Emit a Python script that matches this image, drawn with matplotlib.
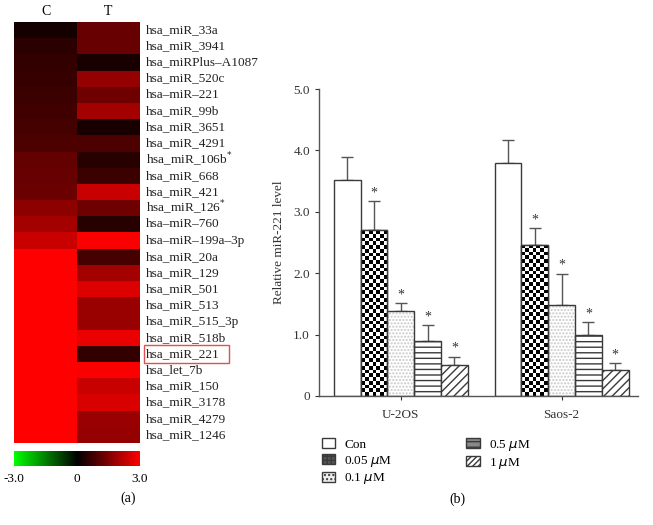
import numpy as np
import matplotlib.pyplot as plt
from matplotlib.colors import LinearSegmentedColormap
from matplotlib.patches import Patch, Rectangle

plt.rcParams['font.family'] = ['Liberation Serif', 'DejaVu Serif']

# heatmap data (log ratio, -3..3)
mirnas = ["hsa_miR_33a", "hsa_miR_3941", "hsa_miRPlus\u2013A1087", "hsa_miR_520c",
          "hsa\u2013miR\u2013221", "hsa_miR_99b", "hsa_miR_3651", "hsa_miR_4291",
          "hsa_miR_106b$^{*}$", "hsa_miR_668", "hsa_miR_421", "hsa_miR_126$^{*}$",
          "hsa\u2013miR\u2013760", "hsa\u2013miR\u2013199a\u20133p", "hsa_miR_20a",
          "hsa_miR_129", "hsa_miR_501", "hsa_miR_513", "hsa_miR_515_3p",
          "hsa_miR_518b", "hsa_miR_221", "hsa_let_7b", "hsa_miR_150",
          "hsa_miR_3178", "hsa_miR_4279", "hsa_miR_1246"]
col_c = [0.25, 0.5, 0.6, 0.65, 0.7, 0.75, 0.8, 0.9, 1.15, 1.2, 1.25, 1.65, 1.9,
         2.35, 3.0, 3.0, 3.0, 3.0, 3.0, 3.0, 3.0, 3.0, 3.0, 3.0, 3.0, 3.0]
col_t = [1.2, 1.2, 0.3, 1.75, 1.3, 1.9, 0.3, 0.9, 0.45, 0.7, 2.35, 1.3, 0.45,
         2.95, 0.8, 1.9, 2.6, 1.8, 1.8, 2.75, 0.6, 2.95, 2.35, 2.55, 1.8, 1.75]

# bar chart data
cells = ["U-2OS", "Saos-2"]
doses = ["Con", "0.05 $\\mu$M", "0.1 $\\mu$M", "0.5 $\\mu$M", "1 $\\mu$M"]
u2os_mean = [3.51, 2.70, 1.39, 0.90, 0.50]
u2os_err = [0.39, 0.47, 0.12, 0.25, 0.14]
saos_mean = [3.79, 2.46, 1.48, 1.00, 0.43]
saos_err = [0.38, 0.27, 0.51, 0.20, 0.10]

W, H = 653, 525
fig = plt.figure(figsize=(W / 100, H / 100), dpi=100)

def px_axes(x0, y0, x1, y1):
    return fig.add_axes([x0 / W, 1 - y1 / H, (x1 - x0) / W, (y1 - y0) / H])

# ---------- (a) heatmap
cmap = LinearSegmentedColormap.from_list('gbr', ['#00ff00', '#000000', '#ff0000'])
ax1 = px_axes(14, 22, 140, 443)
data = np.column_stack([col_c, col_t])
im = ax1.imshow(data, cmap=cmap, vmin=-3, vmax=3, aspect='auto', interpolation='nearest')
ax1.set_yticks([])
ax1.xaxis.tick_top()
ax1.set_xticks([0, 1])
ax1.set_xticklabels(["C", "T"], fontsize=10)
ax1.tick_params(axis='x', length=0, pad=3)
for s in ax1.spines.values():
    s.set_visible(False)
for i, name in enumerate(mirnas):
    ax1.text(1.6, i, name, fontsize=9.5, va='center', ha='left', color='#222222')
ax1.add_patch(Rectangle((1.56, 19.45), 1.35, 1.1, fill=False, edgecolor='#e05050',
                        linewidth=1, clip_on=False))

cax = px_axes(14, 451, 140, 466)
cb = fig.colorbar(im, cax=cax, orientation='horizontal', ticks=[-3, 0, 3])
cb.set_ticklabels(["-3.0", "0", "3.0"])
cb.outline.set_visible(False)
cax.tick_params(length=0, labelsize=9.5, pad=5)
fig.text(128 / W, 1 - 498 / H, "(a)", fontsize=10, ha='center', va='center')

# ---------- (b) bar chart
ax2 = px_axes(319, 89, 638, 396)
edge = '#3a3a3a'
centers = [0, 6]
offsets = np.arange(5) - 2
hatches = [None, None, '.....', '---', '////']

for gi, (means, errs) in enumerate([(u2os_mean, u2os_err), (saos_mean, saos_err)]):
    xs = centers[gi] + offsets
    for j in range(5):
        x, m, e = xs[j], means[j], errs[j]
        if j == 1:
            # checkerboard fill clipped to the bar
            b = ax2.bar(x, m, width=1, facecolor='white', edgecolor=edge, linewidth=1, zorder=2)[0]
            nx, ny = 7, int(round(m * 61.4 / 3.8))
            checker = (np.indices((ny, nx)).sum(axis=0) % 2).astype(float)
            img = ax2.imshow(checker, cmap='gray', extent=(x - 0.5, x + 0.5, 0, m),
                             aspect='auto', interpolation='nearest', zorder=2.5)
            img.set_clip_path(b)
            ax2.bar(x, m, width=1, fill=False, edgecolor=edge, linewidth=1, zorder=3)
        elif j == 2:
            ax2.bar(x, m, width=1, facecolor='white', edgecolor='#c8c8c8', hatch='.....',
                    linewidth=0, zorder=2)
            ax2.bar(x, m, width=1, fill=False, edgecolor=edge, linewidth=1, zorder=3)
        else:
            ax2.bar(x, m, width=1, facecolor='white', edgecolor=edge,
                    hatch=hatches[j], linewidth=1, zorder=2)
        ax2.errorbar(x, m, yerr=[[0], [e]], fmt='none', ecolor='#555555',
                     elinewidth=1, capsize=4.5, capthick=1, zorder=1)
        if j > 0:
            ax2.text(x, m + e + 0.03, "*", ha='center', va='bottom', fontsize=10,
                     color='#333333')

ax2.set_xlim(-3.05, 8.85)
ax2.set_ylim(0, 5)
ax2.set_yticks([0, 1, 2, 3, 4, 5])
ax2.set_yticklabels(["0", "1.0", "2.0", "3.0", "4.0", "5.0"])
ax2.set_xticks(centers)
ax2.set_xticklabels(cells)
ax2.tick_params(labelsize=9.5, colors='#333333', length=3, width=0.8)
ax2.tick_params(axis='x', pad=6)
ax2.set_ylabel("Relative miR-221 level", fontsize=9.5, color='#333333', labelpad=6)
for s in ['top', 'right']:
    ax2.spines[s].set_visible(False)
for s in ['left', 'bottom']:
    ax2.spines[s].set_color('#555555')
    ax2.spines[s].set_linewidth(1)

handles = [Patch(facecolor='white', edgecolor=edge, label=doses[0]),
           Patch(facecolor='#555555', edgecolor=edge, hatch='++++', label=doses[1]),
           Patch(facecolor='#eeeeee', edgecolor=edge, hatch='....', label=doses[2]),
           Patch(facecolor='#888888', edgecolor=edge, hatch='---', label=doses[3]),
           Patch(facecolor='white', edgecolor=edge, hatch='//////', label=doses[4])]
fig.legend(handles=handles, ncol=2, loc='upper left',
           bbox_to_anchor=(310 / W, 1 - 426 / H), frameon=False, fontsize=9.5,
           handlelength=1.0, handleheight=0.8, columnspacing=5.6, labelspacing=0.2,
           handletextpad=0.7)
fig.text(457 / W, 1 - 499 / H, "(b)", fontsize=10, ha='center', va='center')

fig.savefig("out.png", dpi=100)
